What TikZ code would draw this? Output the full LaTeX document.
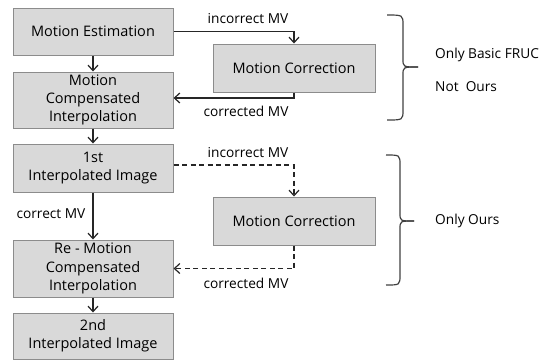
\documentclass[tikz,border=0pt]{standalone}
\usepackage{fontspec}
\setmainfont{Open Sans}
\usetikzlibrary{arrows.meta}
\begin{document}
\begin{tikzpicture}[x=1pt,y=-1pt,font=\fontsize{14.5}{18.3}\selectfont,
  box/.style={draw=black!45,fill=black!15,line width=1pt,minimum width=160pt,align=center,inner sep=0pt},
  link/.style={draw=black!85,line width=1.2pt,-{Straight Barb[length=5.5pt,width=10pt]}},
  dashlink/.style={link,dash pattern=on 5pt off 3.5pt},
  lbl/.style={font=\fontsize{13.7}{16}\selectfont,inner sep=0pt},
  brc/.style={draw=black!75,line width=1.2pt}]
\useasboundingbox (0,0) rectangle (550,360);
% left column
\node[box,minimum height=47pt] (me) at (93,31.5) {Motion Estimation};
\node[box,minimum height=56pt] (mci) at (93,100) {Motion\\Compensated\\Interpolation};
\node[box,minimum height=48pt] (img1) at (93,168) {1st\\Interpolated Image};
\node[box,minimum height=57pt] (remci) at (93,268.5) {Re - Motion\\Compensated\\Interpolation};
\node[box,minimum height=46pt] (img2) at (93,336) {2nd\\Interpolated Image};
% correction boxes
\node[box,minimum width=162pt,minimum height=48pt] (mca) at (294,68) {Motion Correction};
\node[box,minimum width=162pt,minimum height=48pt] (mcb) at (294,221) {Motion Correction};
% connectors
\draw[link] (me) -- (mci);
\draw[link] (mci) -- (img1);
\draw[link] (img1) -- (remci);
\draw[link] (remci) -- (img2);
\draw[link] (me.east) -| (mca.north);
\draw[link] (mca.south) |- ([yshift=2pt]mci.east);
\draw[dashlink] ([yshift=3pt]img1.east) -| (mcb.north);
\draw[dashlink] (mcb.south) |- (remci.east);
% labels
\node[lbl] (inca) at (248,19) {incorrect MV};
\node[lbl] (cora) at (246,111) {corrected MV};
\node[lbl] (incb) at (248,153) {incorrect MV};
\node[lbl] (corb) at (246,283) {corrected MV};
\node[lbl] (cmv) at (51,214) {correct MV};
% braces
\draw[brc] (387,15) .. controls (403,15) .. (403,25) -- (403,59) .. controls (403,67) .. (418,67);
\draw[brc] (387,120) .. controls (403,120) .. (403,110) -- (403,75) .. controls (403,67) .. (418,67);
\draw[brc] (386,155) .. controls (400,155) .. (400,165) -- (400,213) .. controls (400,221) .. (414,221);
\draw[brc] (386,285) .. controls (400,285) .. (400,275) -- (400,229) .. controls (400,221) .. (414,221);
\node[lbl,anchor=west] (basic) at (435,55) {Only Basic FRUC};
\node[lbl,anchor=west] (notours) at (435,87) {Not\ \ Ours};
\node[lbl,anchor=west] (ours) at (435,221) {Only Ours};
\end{tikzpicture}
\end{document}
